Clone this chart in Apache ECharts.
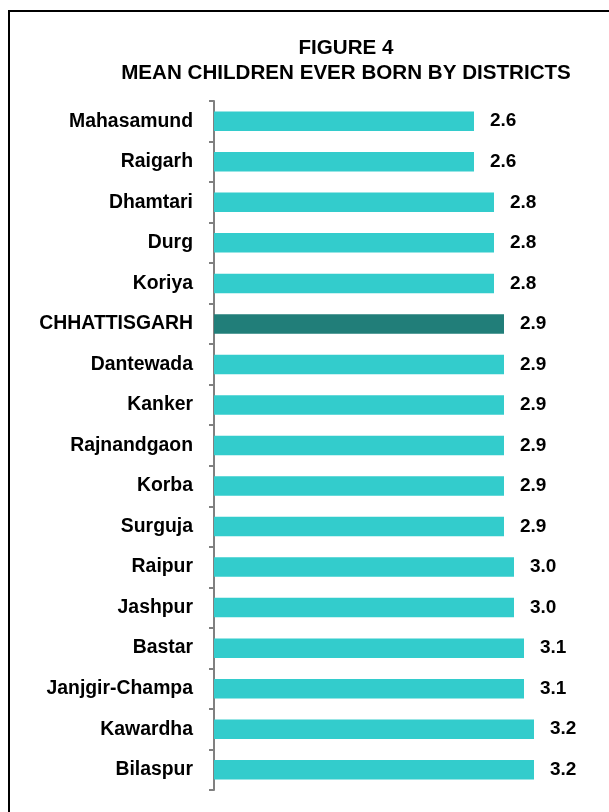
<!DOCTYPE html>
<html>
<head>
<meta charset="utf-8">
<script src="https://cdn.jsdelivr.net/npm/echarts@6/dist/echarts.min.js"></script>
<style>
  html, body { margin: 0; padding: 0; background: #fff; }
  #chart { width: 609px; height: 812px; }
</style>
</head>
<body>
<div id="chart"></div>
<script>
// data
const districts = ['Mahasamund', 'Raigarh', 'Dhamtari', 'Durg', 'Koriya', 'CHHATTISGARH',
  'Dantewada', 'Kanker', 'Rajnandgaon', 'Korba', 'Surguja', 'Raipur', 'Jashpur',
  'Bastar', 'Janjgir-Champa', 'Kawardha', 'Bilaspur']
const meanChildren = [2.6, 2.6, 2.8, 2.8, 2.8, 2.9, 2.9, 2.9, 2.9, 2.9, 2.9, 3.0, 3.0, 3.1, 3.1, 3.2, 3.2]
const stateName = 'CHHATTISGARH'

const FONT = '"Liberation Sans", Arial, sans-serif'
let chart = echarts.init(document.querySelector('#chart'))

chart.setOption({
    animation: false,
    title: {
        text: 'FIGURE 4\nMEAN CHILDREN EVER BORN BY DISTRICTS',
        left: 341,
        top: 31,
        textAlign: 'center',
        textStyle: {
            fontFamily: FONT,
            fontSize: 20.6,
            fontWeight: 'bold',
            color: '#000',
            lineHeight: 25
        }
    },
    graphic: [{
        type: 'rect',
        shape: {x: 9, y: 11, width: 640, height: 840},
        style: {fill: 'none', stroke: '#000', lineWidth: 2}
    }],
    grid: {
        left: 214,
        width: 350,
        top: 101,
        height: 689
    },
    xAxis: {
        type: 'value',
        min: 0,
        max: 3.5,
        show: false
    },
    yAxis: {
        type: 'category',
        data: districts,
        inverse: true,
        axisLine: {show: true, lineStyle: {color: '#808080', width: 2}},
        axisTick: {show: true, alignWithLabel: false, length: 5, lineStyle: {color: '#808080', width: 2}},
        axisLabel: {
            margin: 21,
            fontFamily: FONT,
            fontSize: 19.4,
            fontWeight: 'bold',
            color: '#000'
        }
    },
    series: [{
        type: 'bar',
        barWidth: 19.5,
        data: meanChildren.map((v, i) => ({
            value: v,
            itemStyle: {color: districts[i] === stateName ? '#217E79' : '#33CCCC'}
        })),
        label: {
            show: true,
            position: 'right',
            distance: 16,
            formatter: p => p.value.toFixed(1),
            fontFamily: FONT,
            fontSize: 19,
            fontWeight: 'bold',
            color: '#000'
        }
    }]
})
</script>
</body>
</html>
